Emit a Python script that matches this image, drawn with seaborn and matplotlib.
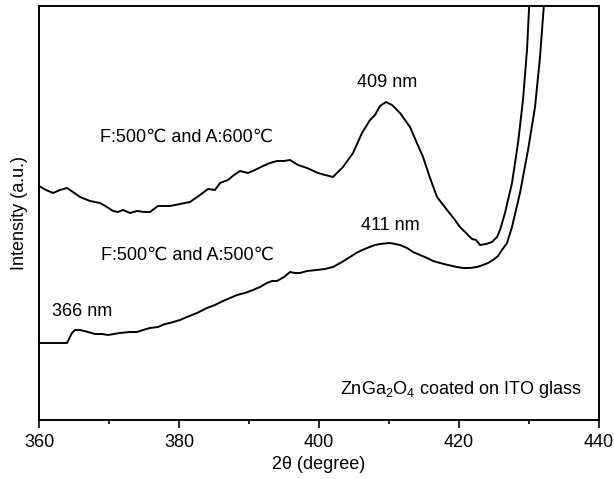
import numpy as np
import pandas as pd
import matplotlib
matplotlib.use("Agg")
import matplotlib.pyplot as plt
import seaborn as sns

# --- data ---
wl_a600 = [360.0, 361.0, 362.0, 363.0, 364.0, 364.86, 365.86, 367.29, 368.71, 369.71,
           370.57, 371.29, 372.0, 373.0, 374.0, 375.0, 375.86, 377.0, 378.71, 380.14,
           381.57, 383.0, 384.14, 385.14, 385.86, 387.0, 387.86, 388.71, 389.86, 390.86,
           392.0, 393.0, 394.0, 395.0, 395.86, 397.0, 398.29, 399.86, 400.86, 402.0,
           403.43, 404.86, 406.14, 407.29, 408.0, 408.71, 409.57, 410.43, 411.57, 413.0,
           413.86, 414.86, 415.86, 416.86, 418.29, 419.43, 420.14, 421.14, 421.86, 422.43,
           423.0, 423.86, 424.71, 425.43, 425.86, 426.57, 427.57, 428.43, 429.14, 429.71,
           430.14]
int_a600 = [234, 230, 227, 230, 232, 228, 223, 219, 217, 213,
            209, 208, 210, 207, 209, 208, 208, 214, 214, 216,
            218, 225, 231, 230, 237, 240, 245, 249, 247, 250,
            254, 257, 259, 259, 260, 255, 252, 247, 245, 243,
            253, 267, 287, 300, 305, 314, 318, 315, 307, 293,
            279, 263, 242, 223, 210, 200, 193, 186, 181, 180,
            175, 176, 178, 183, 190, 207, 237, 277, 320, 370,
            430]

wl_a500 = [360.0, 361.57, 363.0, 364.0, 364.43, 364.71, 365.14, 365.86, 367.0, 368.0,
           369.0, 369.86, 370.71, 371.57, 373.0, 374.0, 374.86, 375.86, 377.0, 378.0,
           378.71, 380.14, 381.14, 382.57, 384.0, 385.14, 386.29, 387.29, 388.29, 389.43,
           390.57, 391.57, 392.57, 393.29, 394.0, 395.0, 395.86, 396.57, 397.29, 398.29,
           399.71, 400.86, 402.0, 403.29, 404.43, 405.57, 406.86, 408.0, 408.71, 410.14,
           410.86, 411.57, 412.57, 413.43, 414.43, 415.43, 416.29, 417.29, 418.43, 419.71,
           420.57, 421.57, 422.57, 423.43, 424.14, 424.86, 425.57, 426.14, 426.86, 427.57,
           428.71, 429.86, 430.86, 431.57, 432.29]
int_a500 = [77, 77, 77, 77, 83, 87, 90, 90, 88, 86,
            86, 85, 86, 87, 88, 88, 90, 92, 93, 96,
            97, 100, 103, 107, 112, 115, 119, 122, 125, 127,
            130, 133, 137, 139, 139, 143, 148, 147, 147, 149,
            150, 151, 153, 158, 163, 168, 172, 175, 176, 177,
            176, 175, 172, 168, 165, 162, 159, 157, 155, 153,
            152, 152, 153, 155, 157, 160, 164, 170, 177, 193,
            227, 270, 313, 363, 430]

xticks = [360, 380, 400, 420, 440]

df = pd.concat([
    pd.DataFrame({"wl": wl_a600, "I": int_a600, "s": "A600"}),
    pd.DataFrame({"wl": wl_a500, "I": int_a500, "s": "A500"}),
], ignore_index=True)

sns.set_style("ticks")
plt.rcParams['font.family'] = ['Liberation Sans', 'DejaVu Sans']
plt.rcParams['mathtext.default'] = 'regular'
plt.rcParams['text.color'] = 'black'
plt.rcParams['axes.labelcolor'] = 'black'
plt.rcParams['xtick.color'] = 'black'
plt.rcParams['ytick.color'] = 'black'

fig = plt.figure(figsize=(6.14, 4.79), dpi=100)
ax = fig.add_axes([0.0635, 0.1232, 0.9121, 0.8643])

sns.lineplot(data=df, x="wl", y="I", units="s", estimator=None, sort=False,
             color="black", linewidth=1.4, ax=ax)

ax.set_xlim(360, 440)
ax.set_ylim(0, 414)
ax.set_xticks(xticks)
ax.set_xticklabels([str(t) for t in xticks], fontsize=13, color="black")
ax.set_xticks([370, 390, 410, 430], minor=True)
ax.tick_params(axis="x", which="major", direction="out", length=6, width=1.2, pad=4, colors="black")
ax.tick_params(axis="x", which="minor", direction="out", length=3, width=1.2, colors="black")
ax.set_yticks([])
for sp in ax.spines.values():
    sp.set_visible(True)
    sp.set_linewidth(1.4)
    sp.set_color("black")

ax.set_xlabel("2θ (degree)", fontsize=13, labelpad=4, color="black")
ax.set_ylabel("Intensity (a.u.)", fontsize=13, labelpad=8, color="black")

fs = 13
kw = dict(fontsize=fs, color="black")
ax.text(381.14, 283, "F:500℃ and A:600℃", ha="center", va="center", **kw)
ax.text(381.14, 165, "F:500℃ and A:500℃", ha="center", va="center", **kw)
ax.text(409.67, 337, "409 nm", ha="center", va="center", **kw)
ax.text(410.14, 194, "411 nm", ha="center", va="center", **kw)
ax.text(366.2, 108, "366 nm", ha="center", va="center", **kw)
ax.text(437.57, 30, r"ZnGa$_2$O$_4$ coated on ITO glass", ha="right", va="center", **kw)

fig.savefig("out.png", dpi=100)
